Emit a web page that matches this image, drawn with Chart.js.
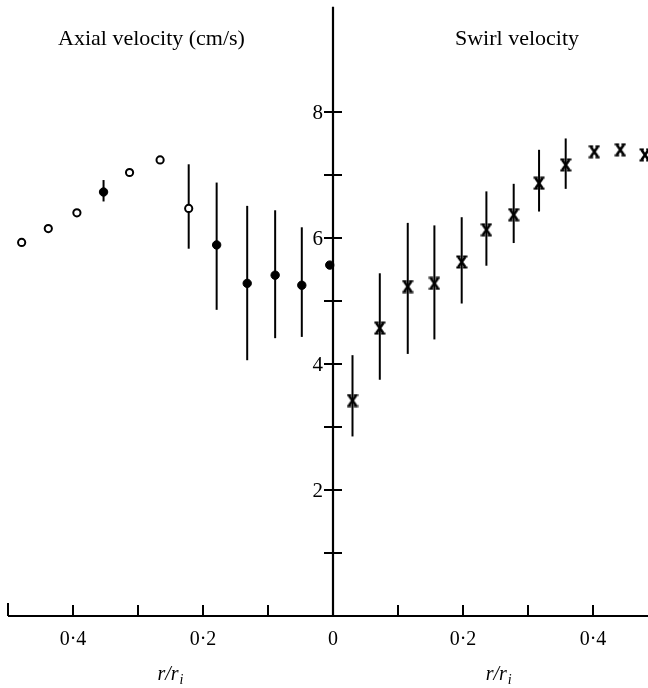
<!DOCTYPE html>
<html>
<head>
<meta charset="utf-8">
<script src="https://cdn.jsdelivr.net/npm/chart.js@4.4.1/dist/chart.umd.min.js"></script>
<style>
  html, body { margin: 0; padding: 0; background: #fff; }
  #wrap { width: 648px; height: 688px; position: relative; }
</style>
</head>
<body>
<div id="wrap"><canvas id="c" width="648" height="688"></canvas></div>
<script>
// ---- Data (r/r_i on each side of the central axis) ----
// Left half: axial velocity (cm/s); plotted at negative x (mirror side)
const axialR      = [0.479, 0.438, 0.394, 0.353, 0.313, 0.266, 0.222, 0.179, 0.132, 0.089, 0.048, 0.005];
const axialV      = [5.93, 6.15, 6.40, 6.73, 7.04, 7.24, 6.47, 5.89, 5.28, 5.41, 5.25, 5.57];
const axialHi     = [null, null, null, 6.92, null, null, 7.17, 6.88, 6.51, 6.44, 6.17, null];
const axialLo     = [null, null, null, 6.58, null, null, 5.83, 4.86, 4.06, 4.41, 4.43, null];
const axialFilled = [false, false, false, true, false, false, false, true, true, true, true, true];

// Right half: swirl velocity
const swirlR  = [0.030, 0.072, 0.115, 0.156, 0.198, 0.236, 0.278, 0.317, 0.358, 0.402, 0.442, 0.480];
const swirlV  = [3.42, 4.57, 5.23, 5.28, 5.62, 6.13, 6.37, 6.87, 7.16, 7.37, 7.40, 7.32];
const swirlHi = [4.14, 5.44, 6.24, 6.20, 6.33, 6.74, 6.86, 7.40, 7.58, null, null, null];
const swirlLo = [2.85, 3.75, 4.16, 4.39, 4.96, 5.56, 5.92, 6.42, 6.78, null, null, null];

// Axis ticks
const xTicks      = [-0.5, -0.4, -0.3, -0.2, -0.1, 0.1, 0.2, 0.3, 0.4, 0.5];
const xTickLabels = [[-0.4, '0·4'], [-0.2, '0·2'], [0, '0'], [0.2, '0·2'], [0.4, '0·4']];
const yTicks      = [1, 2, 3, 4, 5, 6, 7, 8];
const yTickLabels = [2, 4, 6, 8];
const yAxisTop    = 9.67;

// ---- Build datasets ----
const openPts = [], filledPts = [];
axialR.forEach((r, i) => {
  const p = { x: -r, y: axialV[i] };
  (axialFilled[i] ? filledPts : openPts).push(p);
});
const swirlPts = swirlR.map((r, i) => ({ x: r, y: swirlV[i] }));

// Hourglass-like "X" marker for the swirl data
function makeCross() {
  const c = document.createElement('canvas');
  c.width = 12; c.height = 14;
  const g = c.getContext('2d');
  g.strokeStyle = '#000'; g.lineCap = 'butt';
  g.lineWidth = 2.6;
  g.beginPath();
  g.moveTo(2.5, 2); g.lineTo(9.5, 12);
  g.moveTo(9.5, 2); g.lineTo(2.5, 12);
  g.stroke();
  g.lineWidth = 2;
  g.beginPath();
  g.moveTo(0.5, 1.5); g.lineTo(4.8, 1.5);
  g.moveTo(7.2, 1.5); g.lineTo(11.5, 1.5);
  g.moveTo(0.5, 12.5); g.lineTo(4.8, 12.5);
  g.moveTo(7.2, 12.5); g.lineTo(11.5, 12.5);
  g.stroke();
  return c;
}
const crossImg = makeCross();

const SERIF = '"Liberation Serif", "DejaVu Serif", serif';

const paperPlugin = {
  id: 'paper',
  beforeDatasetsDraw(chart) {
    const ctx = chart.ctx, xs = chart.scales.x, ys = chart.scales.y;
    ctx.save();
    ctx.strokeStyle = '#000';
    ctx.lineCap = 'butt';
    // bottom axis
    const y0 = ys.getPixelForValue(0);
    ctx.lineWidth = 2;
    ctx.beginPath();
    ctx.moveTo(xs.getPixelForValue(-0.5), y0);
    ctx.lineTo(chart.width, y0);
    ctx.stroke();
    xTicks.forEach(v => {
      const px = xs.getPixelForValue(v);
      const len = (v === -0.5) ? 13 : 11;
      ctx.beginPath(); ctx.moveTo(px, y0); ctx.lineTo(px, y0 - len); ctx.stroke();
    });
    // central vertical axis
    const x0 = xs.getPixelForValue(0);
    ctx.lineWidth = 2.2;
    ctx.beginPath();
    ctx.moveTo(x0, ys.getPixelForValue(yAxisTop));
    ctx.lineTo(x0, y0);
    ctx.stroke();
    ctx.lineWidth = 2;
    yTicks.forEach(v => {
      const py = ys.getPixelForValue(v);
      ctx.beginPath(); ctx.moveTo(x0 - 9, py); ctx.lineTo(x0 + 9, py); ctx.stroke();
    });
    // error bars
    ctx.lineWidth = 2;
    const bar = (x, lo, hi) => {
      const px = xs.getPixelForValue(x);
      ctx.beginPath();
      ctx.moveTo(px, ys.getPixelForValue(hi));
      ctx.lineTo(px, ys.getPixelForValue(lo));
      ctx.stroke();
    };
    axialR.forEach((r, i) => { if (axialHi[i] != null) bar(-r, axialLo[i], axialHi[i]); });
    swirlR.forEach((r, i) => { if (swirlHi[i] != null) bar(r, swirlLo[i], swirlHi[i]); });
    ctx.restore();
  },
  afterDraw(chart) {
    const ctx = chart.ctx, xs = chart.scales.x, ys = chart.scales.y;
    ctx.save();
    ctx.fillStyle = '#000';
    // panel titles
    ctx.font = '22px ' + SERIF;
    ctx.textAlign = 'left'; ctx.textBaseline = 'alphabetic';
    ctx.fillText('Axial velocity (cm/s)', 58, 45);
    ctx.fillText('Swirl velocity', 455, 45);
    // y tick labels
    const x0 = xs.getPixelForValue(0);
    ctx.font = '21px ' + SERIF;
    ctx.textAlign = 'right'; ctx.textBaseline = 'middle';
    yTickLabels.forEach(v => ctx.fillText(String(v), x0 - 10, ys.getPixelForValue(v) + 1));
    // x tick labels
    const y0 = ys.getPixelForValue(0);
    ctx.font = '20px ' + SERIF;
    ctx.textAlign = 'center'; ctx.textBaseline = 'middle';
    xTickLabels.forEach(([v, t]) => ctx.fillText(t, xs.getPixelForValue(v), y0 + 24));
    // axis titles r/r_i
    const drawTitle = (cx) => {
      ctx.font = 'italic 20px ' + SERIF;
      ctx.textAlign = 'left'; ctx.textBaseline = 'alphabetic';
      const main = 'r/r';
      const w = ctx.measureText(main).width;
      ctx.font = 'italic 14px ' + SERIF;
      const ws = ctx.measureText('i').width;
      const start = cx - (w + ws + 1) / 2;
      ctx.font = 'italic 20px ' + SERIF;
      ctx.fillText(main, start, y0 + 64);
      ctx.font = 'italic 14px ' + SERIF;
      ctx.fillText('i', start + w + 1, y0 + 68);
    };
    drawTitle(xs.getPixelForValue(-0.25));
    drawTitle(xs.getPixelForValue(0.255));
    ctx.restore();
  }
};

new Chart(document.getElementById('c'), {
  type: 'scatter',
  data: {
    datasets: [
      { label: 'Axial (open)', data: openPts, pointStyle: 'circle', pointRadius: 3.6,
        pointBackgroundColor: '#fff', pointBorderColor: '#000', pointBorderWidth: 2, clip: false },
      { label: 'Axial (filled)', data: filledPts, pointStyle: 'circle', pointRadius: 4.2,
        pointBackgroundColor: '#000', pointBorderColor: '#000', pointBorderWidth: 1, clip: false },
      { label: 'Swirl', data: swirlPts, pointStyle: crossImg, pointRadius: 6, clip: false }
    ]
  },
  options: {
    responsive: false,
    animation: false,
    devicePixelRatio: 1,
    layout: { padding: 0, autoPadding: false },
    plugins: { legend: { display: false }, tooltip: { enabled: false }, title: { display: false } },
    scales: {
      x: { type: 'linear', display: false, min: -333 / 650, max: (648 - 333) / 650 },
      y: { type: 'linear', display: false, min: -(688 - 616) / 63, max: 616 / 63 }
    }
  },
  plugins: [paperPlugin]
});
</script>
</body>
</html>
